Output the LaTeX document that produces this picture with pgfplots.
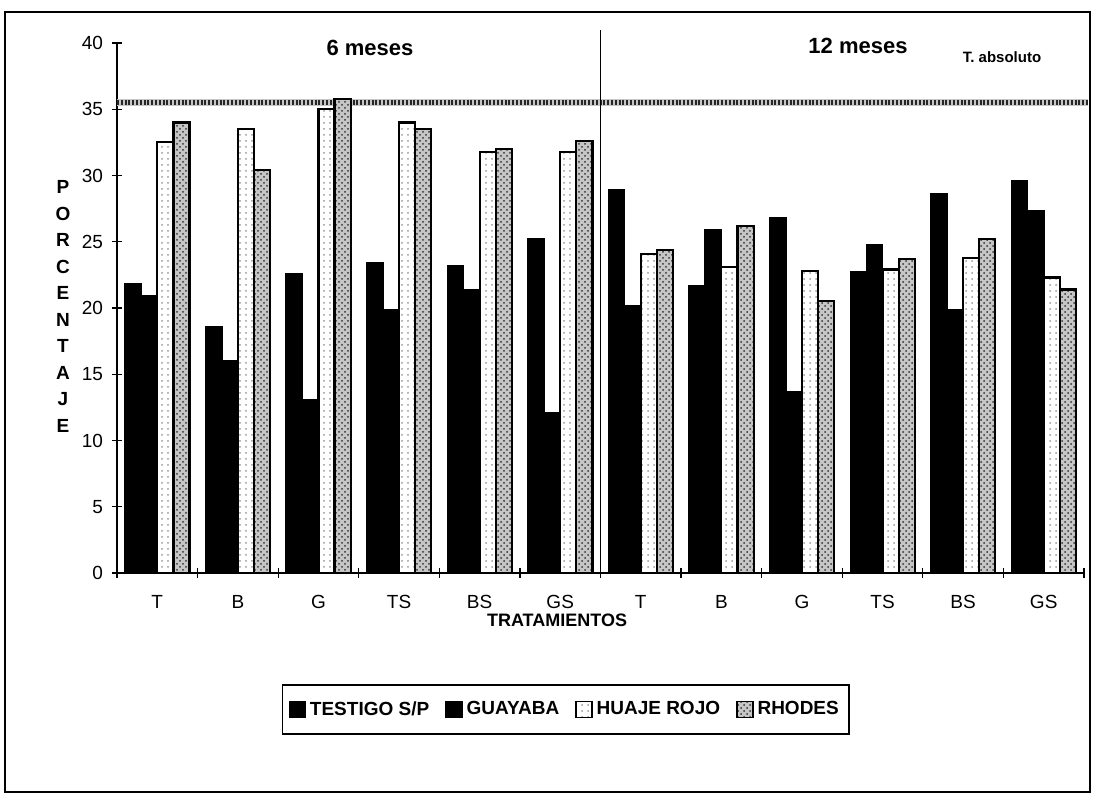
\documentclass[border=0pt]{standalone}
\usepackage{pgfplots}
\pgfplotsset{compat=1.18}
\usepackage{fontspec}
\setmainfont{Liberation Sans}
\usetikzlibrary{patterns}
\pgfplotsset{sqlegend/.style={legend image code/.code={\draw[##1,line width=0.7pt] (0pt,-4pt) rectangle (8pt,4pt);}}}

\begin{document}
\begin{tikzpicture}[x=1pt,y=1pt]
\useasboundingbox (0,0) rectangle (548,400.5);
\draw[line width=0.8pt] (2.5,4.5) rectangle (545,394.5);
\begin{axis}[
  at={(58.5pt,114pt)}, anchor=south west,
  scale only axis, width=483.5pt, height=265pt,
  xmin=-0.5, xmax=11.5, ymin=0, ymax=40,
  axis lines*=left,
  axis line style={line width=0.7pt},
  clip=false,
  ytick={0,5,...,40},
  xtick={0,...,11},
  xticklabels={T,B,G,TS,BS,GS,T,B,G,TS,BS,GS},
  minor xtick={-0.5,0.5,...,11.5},
  major x tick style={draw=none},
  tick align=center, major tick length=5pt, minor tick length=5pt,
  tick style={black, line width=0.6pt},
  tick label style={font=\fontsize{9.5}{11}\selectfont},
  xticklabel style={yshift=-5pt},
  yticklabel style={xshift=-1pt},
  /pgf/number format/assume math mode=true,
  legend columns=4,
  legend style={at={(0.464,-0.258)}, anchor=center, draw=black, line width=0.9pt,
    font=\bfseries\fontsize{9.5}{11}\selectfont, inner xsep=3pt, inner ysep=6pt,
    /tikz/every even column/.append style={column sep=6pt}},
  legend cell align=left,
]
% T. absoluto line
\addplot[gray!45, line width=3.2pt, forget plot] coordinates {(-0.5,35.5) (11.55,35.5)};
\addplot[black!85, line width=2.6pt, dash pattern=on 1pt off 0.9pt, forget plot] coordinates {(-0.5,35.5) (11.55,35.5)};
% divider
\addplot[black, line width=0.8pt, forget plot] coordinates {(5.5,0) (5.5,41)};

\addplot[ybar, bar width=0.2, bar shift=-0.3, draw=black, line width=0.8pt, fill=black, sqlegend]
coordinates {(0,21.8) (1,18.6) (2,22.6) (3,23.4) (4,23.2) (5,25.2)
             (6,28.9) (7,21.7) (8,26.8) (9,22.7) (10,28.6) (11,29.6)};
\addlegendentry{TESTIGO S/P}
\addplot[ybar, bar width=0.2, bar shift=-0.1, draw=black, line width=0.8pt, fill=black, sqlegend]
coordinates {(0,20.9) (1,16.0) (2,13.1) (3,19.9) (4,21.4) (5,12.1)
             (6,20.2) (7,25.9) (8,13.7) (9,24.8) (10,19.9) (11,27.3)};
\addlegendentry{GUAYABA}
\addplot[ybar, bar width=0.2, bar shift=0.1, draw=black, line width=1.1pt, fill=white,
  postaction={pattern=dots, pattern color=gray!80}, sqlegend]
coordinates {(0,32.5) (1,33.5) (2,35.0) (3,34.0) (4,31.8) (5,31.8)
             (6,24.1) (7,23.1) (8,22.8) (9,22.9) (10,23.8) (11,22.3)};
\addlegendentry{HUAJE ROJO}
\addplot[ybar, bar width=0.2, bar shift=0.3, draw=black, line width=1.1pt, fill=gray!45,
  postaction={pattern=crosshatch dots, pattern color=black!80}, sqlegend]
coordinates {(0,34.0) (1,30.4) (2,35.8) (3,33.5) (4,32.0) (5,32.6)
             (6,24.4) (7,26.2) (8,20.5) (9,23.7) (10,25.2) (11,21.4)};
\addlegendentry{RHODES}
\end{axis}
\node[font=\bfseries\fontsize{11}{13}\selectfont] at (185,376.5) {6 meses};
\node[font=\bfseries\fontsize{11}{13}\selectfont] at (429,377.5) {12 meses};
\node[font=\bfseries\fontsize{7.5}{9}\selectfont] at (501,372) {T. absoluto};
\node[font=\bfseries\fontsize{9}{10}\selectfont] at (278.5,90.5) {TRATAMIENTOS};
\node[font=\bfseries\fontsize{9.5}{13.25}\selectfont, inner sep=0pt] at (31.5,246.75)
  {\begin{tabular}{@{}c@{}}P\\O\\R\\C\\E\\N\\T\\A\\J\\E\end{tabular}};
\end{tikzpicture}
\end{document}
